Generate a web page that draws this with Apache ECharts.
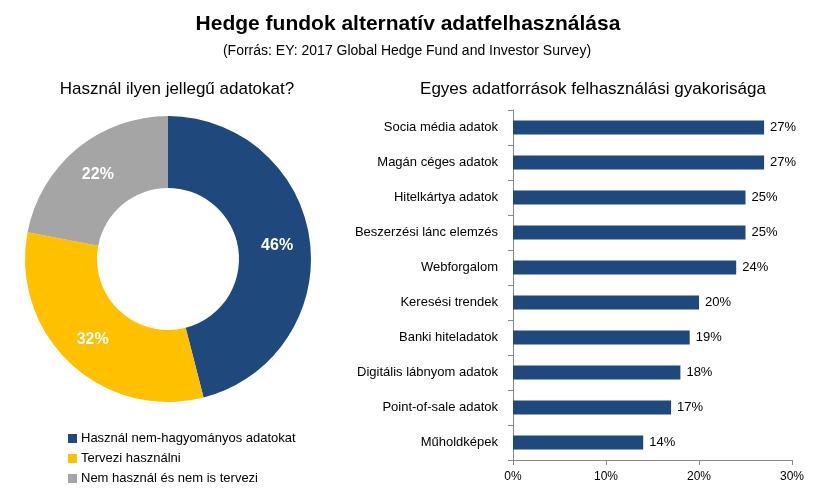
<!DOCTYPE html>
<html><head><meta charset="utf-8">
<script src="https://cdn.jsdelivr.net/npm/echarts@6/dist/echarts.min.js"></script>
<style>html,body{margin:0;padding:0;background:#fff}#c{width:826px;height:501px}</style>
</head><body><div id="c"></div>
<script>
const pieNames = ['Használ nem-hagyományos adatokat','Tervezi használni','Nem használ és nem is tervezi'];
const pieValues = [46, 32, 22];
const pieColors = ['#1F497D', '#FFC000', '#A5A5A5'];
const barCategories = ['Socia média adatok','Magán céges adatok','Hitelkártya adatok','Beszerzési lánc elemzés','Webforgalom','Keresési trendek','Banki hiteladatok','Digitális lábnyom adatok','Point-of-sale adatok','Műholdképek'];
const barValues = [27, 27, 25, 25, 24, 20, 19, 18, 17, 14];
const xTicks = [0, 10, 20, 30];
const FONT = 'Liberation Sans';

const chart = echarts.init(document.getElementById('c'));
chart.setOption({
  animation: false,
  textStyle: {fontFamily: FONT},
  title: [
    {text: 'Hedge fundok alternatív adatfelhasználása', left: 403, textAlign: 'center', top: 9,
     textStyle: {fontFamily: FONT, fontSize: 21, fontWeight: 'bold', color: '#000'}},
    {text: '(Forrás: EY: 2017 Global Hedge Fund and Investor Survey)', left: 402, textAlign: 'center', top: 39,
     textStyle: {fontFamily: FONT, fontSize: 14, fontWeight: 'normal', color: '#000'}},
    {text: 'Használ ilyen jellegű adatokat?', left: 172, textAlign: 'center', top: 76,
     textStyle: {fontFamily: FONT, fontSize: 17, fontWeight: 'normal', color: '#000'}},
    {text: 'Egyes adatforrások felhasználási gyakorisága', left: 588, textAlign: 'center', top: 76,
     textStyle: {fontFamily: FONT, fontSize: 17, fontWeight: 'normal', color: '#000'}}
  ],
  legend: {
    orient: 'vertical', left: 63, top: 427, itemWidth: 9, itemHeight: 9, itemGap: 7,
    icon: 'rect', data: pieNames,
    textStyle: {fontFamily: FONT, fontSize: 13, color: '#000', padding: [0, 0, 0, -1]}
  },
  grid: {left: 513, right: 34, top: 110, bottom: 41},
  xAxis: {
    type: 'value', min: 0, max: 30, interval: 10,
    axisLine: {show: true, lineStyle: {color: '#888'}},
    axisTick: {show: true, length: 5, lineStyle: {color: '#888'}},
    splitLine: {show: false},
    axisLabel: {formatter: '{value}%', color: '#000', fontSize: 12, margin: 11}
  },
  yAxis: {
    type: 'category', data: barCategories, inverse: true,
    axisLine: {show: true, lineStyle: {color: '#888'}},
    axisTick: {show: true, length: 5, lineStyle: {color: '#888'}},
    axisLabel: {color: '#000', fontSize: 13, margin: 15}
  },
  series: [
    {type: 'bar', data: barValues, barWidth: 14, itemStyle: {color: '#1F497D'},
     label: {show: true, position: 'right', formatter: '{c}%', color: '#000', fontSize: 13, distance: 6}},
    {type: 'pie', center: [168, 259], radius: [71, 143], startAngle: 90, clockwise: true,
     data: pieNames.map((n, i) => ({name: n, value: pieValues[i], itemStyle: {color: pieColors[i]}})),
     label: {show: true, position: 'inside', formatter: '{c}%', color: '#fff', fontSize: 16, fontWeight: 'bold'},
     labelLine: {show: false}, emphasis: {disabled: true}}
  ]
});
</script></body></html>
